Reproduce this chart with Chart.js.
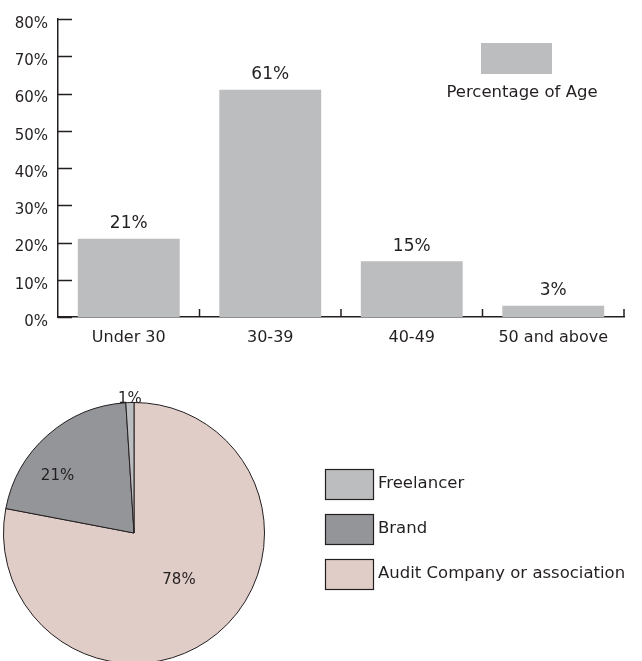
<!DOCTYPE html>
<html>
<head>
<meta charset="utf-8">
<script src="https://cdn.jsdelivr.net/npm/chart.js@4.4.0/dist/chart.umd.min.js"></script>
<style>
  html, body { margin: 0; padding: 0; background: #fff; overflow: hidden; }
  #wrap { position: relative; width: 642px; height: 661px; }
  #barBox { position: absolute; left: 0; top: 0; width: 642px; height: 350px; }
  #pieBox { position: absolute; left: 0; top: 370px; width: 642px; height: 300px; }
</style>
</head>
<body>
<div id="wrap">
  <div id="barBox"><canvas id="ageChart"></canvas></div>
  <div id="pieBox"><canvas id="typeChart"></canvas></div>
</div>
<script>
// dados do gráfico de barras
const ageLabels = ['Under 30', '30-39', '40-49', '50 and above'];
const ageValues = [21, 61, 15, 3];
const ageSeriesName = 'Percentage of Age';
const ageTicks = [0, 10, 20, 30, 40, 50, 60, 70, 80];

// dados do gráfico de pizza (ordem de desenho, a partir do topo)
const typeLabels = ['Audit Company or association', 'Brand', 'Freelancer'];
const typeValues = [78, 21, 1];
const typeColors = ['#e0cdc8', '#949598', '#bcbdbf'];

const ink = '#231f20';
const font = 'DejaVu Sans';

// marcas do eixo e rótulos das barras
const barDeco = {
    id: 'barDeco',
    afterDatasetsDraw(chart) {
        const c = chart.ctx;
        const area = chart.chartArea;
        const y = chart.scales.y;
        c.save();
        c.strokeStyle = ink;
        c.lineWidth = 1.5;
        // ticks do eixo y para dentro
        y.ticks.forEach(t => {
            const py = Math.round(y.getPixelForValue(t.value)) + 0.5;
            c.beginPath();
            c.moveTo(area.left, py);
            c.lineTo(area.left + 14, py);
            c.stroke();
        });
        // ticks entre categorias no eixo x
        const n = ageLabels.length;
        for (let i = 1; i <= n; i++) {
            const px = area.left + (area.right - area.left) * i / n;
            c.beginPath();
            c.moveTo(px, area.bottom);
            c.lineTo(px, area.bottom - 8);
            c.stroke();
        }
        // valores acima das barras
        c.fillStyle = ink;
        c.font = '17px "' + font + '"';
        c.textAlign = 'center';
        c.textBaseline = 'middle';
        chart.getDatasetMeta(0).data.forEach((bar, i) => {
            c.fillText(ageValues[i] + '%', bar.x, bar.y - 15);
        });
        // legenda
        const ds = chart.data.datasets[0];
        c.fillStyle = ds.backgroundColor;
        c.fillRect(481, 43, 71, 31);
        c.fillStyle = ink;
        c.font = '16.5px "' + font + '"';
        c.fillText(ds.label, 522, 93);
        c.restore();
    }
};

new Chart(document.getElementById('ageChart'), {
    type: 'bar',
    data: {
        labels: ageLabels,
        datasets: [{
            label: ageSeriesName,
            data: ageValues,
            backgroundColor: '#bcbdbf',
            categoryPercentage: 1,
            barPercentage: 0.72
        }]
    },
    options: {
        responsive: true,
        maintainAspectRatio: false,
        animation: false,
        events: [],
        layout: { padding: { top: 14, right: 18, bottom: 0, left: 0 } },
        plugins: { legend: { display: false }, tooltip: { enabled: false } },
        scales: {
            x: {
                grid: { display: false, drawTicks: false },
                border: { color: ink, width: 1.5 },
                ticks: { color: ink, font: { family: font, size: 16 }, padding: 11 },
                afterFit: s => { s.height = 33; }
            },
            y: {
                min: ageTicks[0],
                max: ageTicks[ageTicks.length - 1],
                afterBuildTicks: s => { s.ticks = ageTicks.map(v => ({ value: v })); },
                grid: { display: false, drawTicks: false },
                border: { color: ink, width: 1.5 },
                ticks: {
                    color: ink,
                    font: { family: font, size: 15 },
                    padding: 10,
                    labelOffset: 5,
                    callback: v => v + '%'
                },
                afterFit: s => { s.width = 58; }
            }
        }
    },
    plugins: [barDeco]
});

// rótulos e legenda da pizza
const labelRadius = [0.5, 0.73, 1.03];
const labelTurn = [-4, -12, 0];
const pieDeco = {
    id: 'pieDeco',
    afterDatasetsDraw(chart) {
        const c = chart.ctx;
        c.save();
        c.fillStyle = ink;
        c.font = '15px "' + font + '"';
        c.textAlign = 'center';
        c.textBaseline = 'middle';
        chart.getDatasetMeta(0).data.forEach((arc, i) => {
            const mid = (arc.startAngle + arc.endAngle) / 2 + labelTurn[i] * Math.PI / 180;
            const r = arc.outerRadius * labelRadius[i];
            c.fillText(typeValues[i] + '%', arc.x + Math.cos(mid) * r, arc.y + Math.sin(mid) * r);
        });
        // legenda em ordem inversa
        c.textAlign = 'left';
        c.font = '16.5px "' + font + '"';
        c.lineWidth = 1.2;
        c.strokeStyle = ink;
        const order = typeLabels.map((_, i) => i).reverse();
        order.forEach((idx, k) => {
            const top = 99 + k * 45;
            c.fillStyle = typeColors[idx];
            c.fillRect(325, top, 48, 30);
            c.strokeRect(325.5, top + 0.5, 48, 30);
            c.fillStyle = ink;
            c.fillText(typeLabels[idx], 378, top + 15);
        });
        c.restore();
    }
};

new Chart(document.getElementById('typeChart'), {
    type: 'pie',
    data: {
        labels: typeLabels,
        datasets: [{
            data: typeValues,
            backgroundColor: typeColors,
            borderColor: ink,
            borderWidth: 1
        }]
    },
    options: {
        responsive: true,
        maintainAspectRatio: false,
        animation: false,
        events: [],
        layout: { padding: { top: 32, right: 377, bottom: 6, left: 3 } },
        plugins: { legend: { display: false }, tooltip: { enabled: false } }
    },
    plugins: [pieDeco]
});
</script>
</body>
</html>
